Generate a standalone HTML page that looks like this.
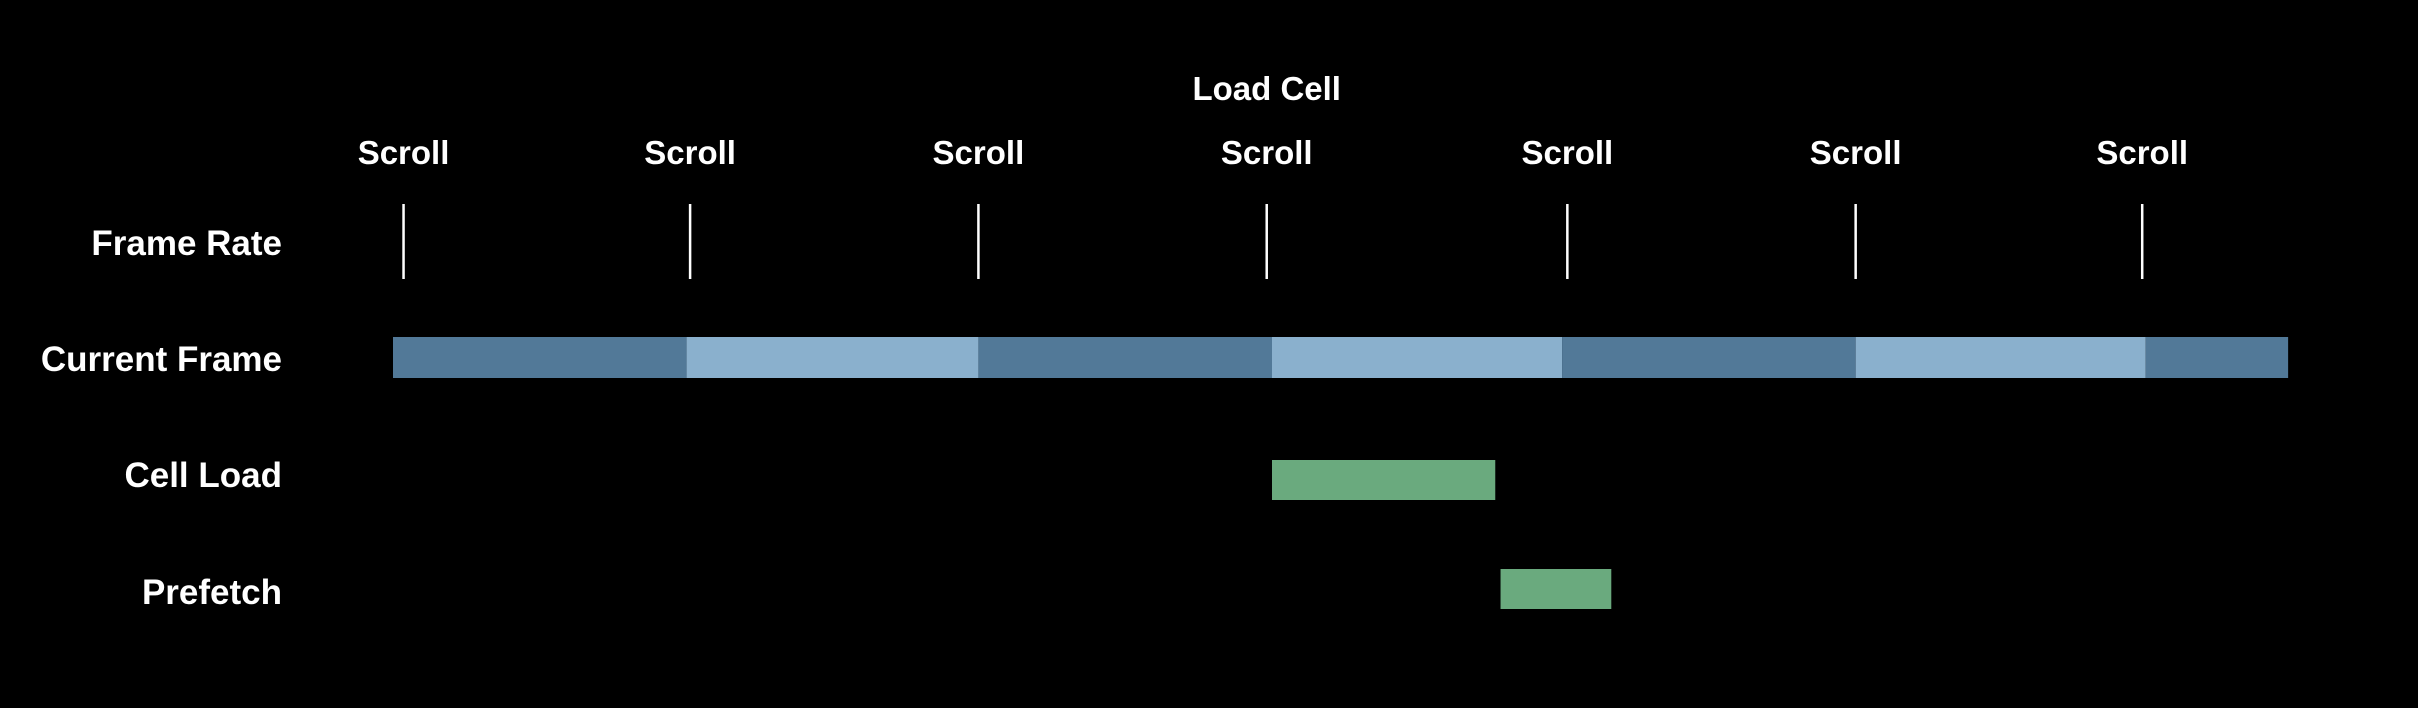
<!DOCTYPE html>
<html><head><meta charset="utf-8"><style>
html,body{margin:0;padding:0;background:#000;}
svg{display:block;}
text{font-family:"Liberation Sans",sans-serif;font-weight:bold;fill:#fff;}
</style></head><body>
<svg id="chart" width="2418" height="708" viewBox="0 0 2418 708" xmlns="http://www.w3.org/2000/svg">
<rect width="2418" height="708" fill="#000"/>
<g id="labels">
<text x="282" y="255" text-anchor="end" font-size="35">Frame Rate</text>
<text x="282" y="371" text-anchor="end" font-size="35">Current Frame</text>
<text x="282" y="487" text-anchor="end" font-size="35">Cell Load</text>
<text x="282" y="604" text-anchor="end" font-size="35">Prefetch</text>
</g>
<g id="marks"></g>
</svg>
<script>
const scrollTimes = [0.6, 16.9, 33.3, 49.7, 66.8, 83.2, 99.5];
const scrollLabels = ["Scroll","Scroll","Scroll","Scroll","Scroll","Scroll","Scroll"];
const frameStarts = [0, 16.7, 33.3, 50, 66.5, 83.2, 99.7];
const frameEnd = 107.8;
const cellLoad = [50, 62.7];
const prefetch = [63.0, 69.3];
const loadCellEventIndex = 3;
const loadCellLabel = "Load Cell";

const X0 = 393, PX_PER_MS = 17.58;
function x(t){ return X0 + t * PX_PER_MS; }
const NS = "http://www.w3.org/2000/svg";
const g = document.getElementById('marks');
function mk(tag, attrs){ const e = document.createElementNS(NS, tag); for (const k in attrs) e.setAttribute(k, attrs[k]); g.appendChild(e); return e; }

scrollTimes.forEach((t, i) => {
  const l = mk('line', {x1:x(t), x2:x(t), y1:204, y2:279, stroke:'#fff', 'stroke-width':2.5});
  
  
  const tx = mk('text', {x:x(t), y:164, 'text-anchor':'middle', 'font-size':33});
  tx.textContent = scrollLabels[i];
  
  
});
const lc = mk('text', {x:x(scrollTimes[loadCellEventIndex]), y:100, 'text-anchor':'middle', 'font-size':33});
lc.textContent = loadCellLabel;



frameStarts.forEach((s, i) => {
  const e = i + 1 < frameStarts.length ? frameStarts[i+1] : frameEnd;
  const r = mk('rect', {x:x(s), y:337, width:x(e)-x(s), height:41, fill: i % 2 ? '#8ab0cd' : '#527998'});
  
  
});
const c = mk('rect', {x:x(cellLoad[0]), y:460, width:x(cellLoad[1])-x(cellLoad[0]), height:40, fill:'#6aaa7e'});


const p = mk('rect', {x:x(prefetch[0]), y:569, width:x(prefetch[1])-x(prefetch[0]), height:40, fill:'#6aaa7e'});


</script>
</body></html>
